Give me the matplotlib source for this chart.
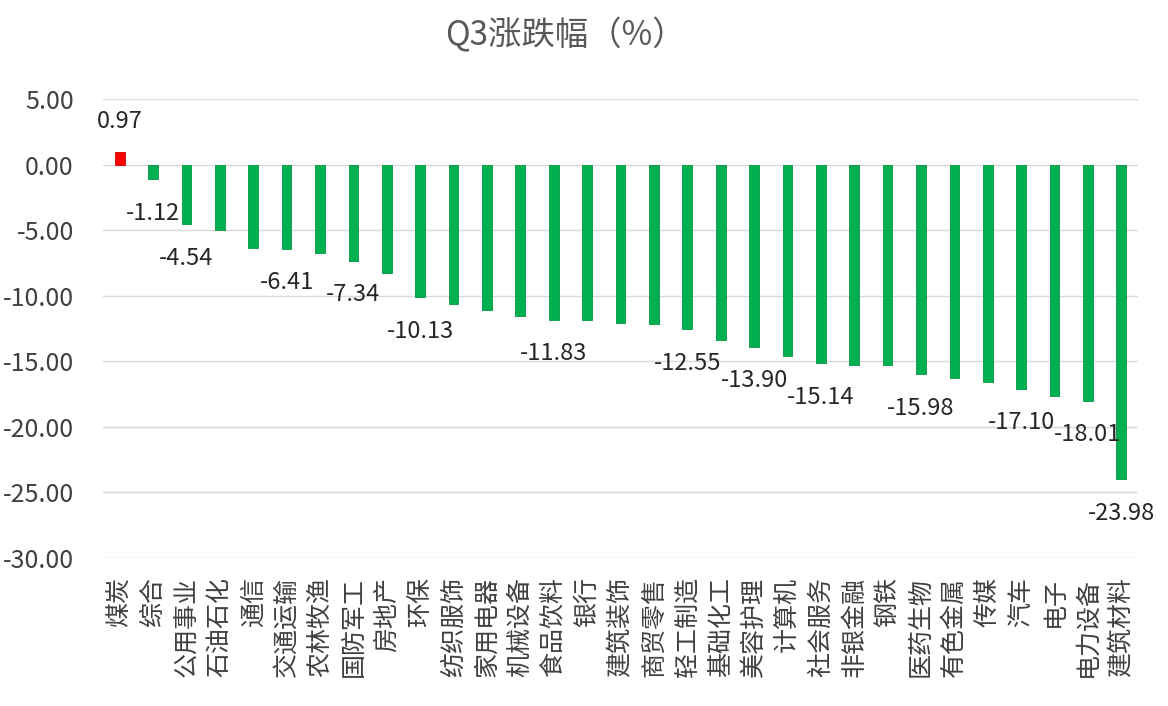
import matplotlib
matplotlib.use("Agg")
import matplotlib.pyplot as plt
from matplotlib.ticker import FormatStrFormatter

plt.rcParams['font.family'] = ['Noto Sans CJK SC', 'DejaVu Sans']

categories = ["煤炭", "综合", "公用事业", "石油石化", "通信", "交通运输", "农林牧渔", "国防军工",
              "房地产", "环保", "纺织服饰", "家用电器", "机械设备", "食品饮料", "银行", "建筑装饰",
              "商贸零售", "轻工制造", "基础化工", "美容护理", "计算机", "社会服务", "非银金融", "钢铁",
              "医药生物", "有色金属", "传媒", "汽车", "电子", "电力设备", "建筑材料"]
values = [0.97, -1.12, -4.54, -5.02, -6.38, -6.41, -6.75, -7.34,
          -8.25, -10.13, -10.60, -11.10, -11.52, -11.83, -11.85, -12.10,
          -12.12, -12.55, -13.35, -13.90, -14.60, -15.14, -15.30, -15.32,
          -15.98, -16.28, -16.55, -17.10, -17.65, -18.01, -23.98]
labeled = ["煤炭", "综合", "公用事业", "交通运输", "国防军工", "环保", "食品饮料", "轻工制造",
           "美容护理", "社会服务", "医药生物", "汽车", "电力设备", "建筑材料"]
yticks = [5, 0, -5, -10, -15, -20, -25, -30]
title = "Q3涨跌幅（%）"

fig = plt.figure(figsize=(11.68, 7.06), dpi=100)
ax = fig.add_axes([103/1168, 1-558/706, (1138-103)/1168, (558-99)/706])

x = list(range(len(categories)))
colors = ["#FF0000" if v > 0 else "#00B050" for v in values]
edges = ["#D00000" if v > 0 else "#00963F" for v in values]
ax.bar(x, values, width=0.29, color=colors, edgecolor=edges, linewidth=0.6, zorder=3)

for xi, (c, v) in enumerate(zip(categories, values)):
    if c in labeled:
        off = 30 if v > 0 else -34
        ax.annotate(f"{v:.2f}", (xi, v), xytext=(0, off), textcoords="offset pixels",
                    ha="center", va="center", fontsize=17, color="#262626", zorder=4)

ax.set_xlim(-0.5, len(categories) - 0.5)
ax.set_ylim(-30, 5)
ax.set_yticks(yticks)
ax.yaxis.set_major_formatter(FormatStrFormatter("%.2f"))
ax.set_xticks(x)
ax.set_xticklabels(categories, rotation=90, fontsize=18, color="#404040")
ax.tick_params(axis="y", labelsize=18, labelcolor="#404040", length=0, pad=21)
ax.tick_params(axis="x", length=0, pad=14)
ax.grid(axis="y", color="#D9D9D9", linewidth=1, zorder=0)
for s in ax.spines.values():
    s.set_visible(False)

fig.text(565/1168, 1-36/706, title, ha="center", va="center", fontsize=24, color="#595959")

fig.savefig("out.png", dpi=100, facecolor="white")
